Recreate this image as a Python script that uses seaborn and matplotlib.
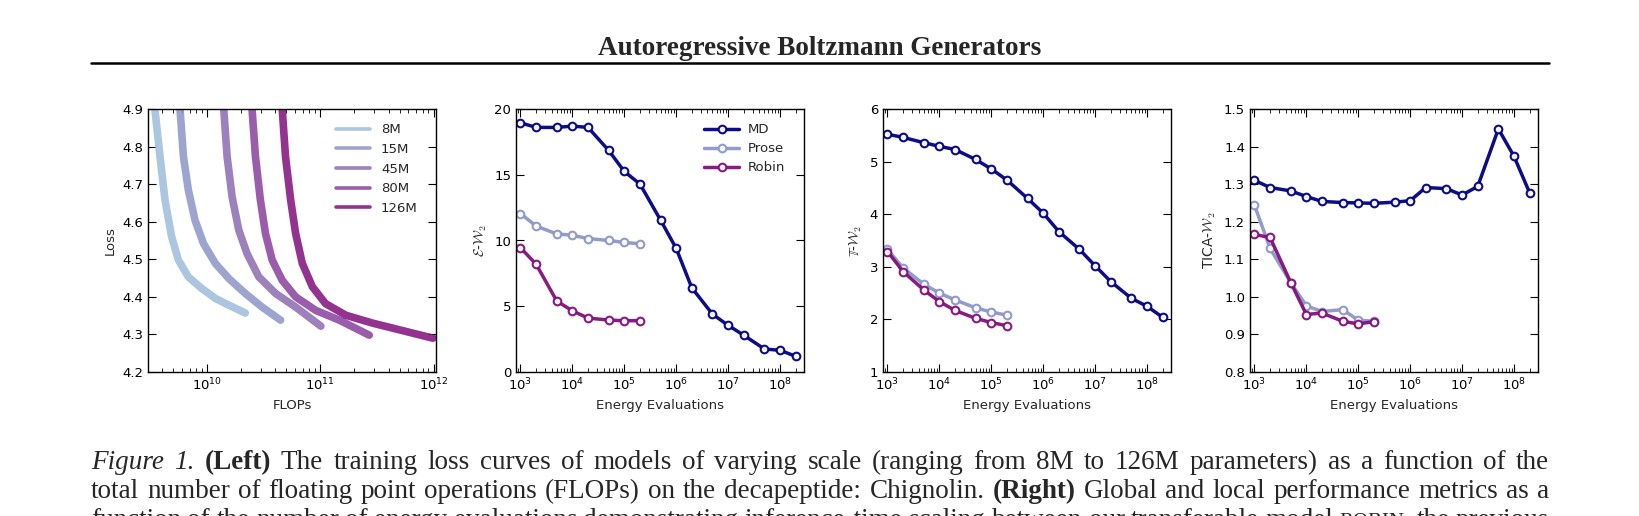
import matplotlib
matplotlib.use("Agg")
import matplotlib.pyplot as plt
import pandas as pd
import seaborn as sns

# ---- left panel: training loss vs FLOPs ----
models = ["8M", "15M", "45M", "80M", "126M"]
flops_8m = [3.45e9, 3.83e9, 4.24e9, 4.85e9, 5.57e9, 6.82e9, 8.98e9, 1.18e10, 1.55e10, 2.17e10]
loss_8m = [4.90, 4.773, 4.658, 4.56, 4.498, 4.453, 4.422, 4.396, 4.378, 4.357]
flops_15m = [5.75e9, 6.17e9, 6.82e9, 7.81e9, 9.27e9, 1.18e10, 1.55e10, 2.17e10, 3.05e10, 4.45e10]
loss_15m = [4.90, 4.773, 4.684, 4.604, 4.542, 4.489, 4.449, 4.409, 4.373, 4.338]
flops_45m = [1.40e10, 1.50e10, 1.66e10, 1.90e10, 2.25e10, 2.86e10, 4.02e10, 6.04e10, 1.01e11]
loss_45m = [4.90, 4.773, 4.666, 4.578, 4.515, 4.453, 4.409, 4.373, 4.322]
flops_80m = [2.49e10, 2.67e10, 2.95e10, 3.27e10, 3.75e10, 4.60e10, 6.04e10, 9.10e10, 1.47e11, 2.70e11]
loss_80m = [4.90, 4.773, 4.658, 4.569, 4.498, 4.444, 4.40, 4.364, 4.338, 4.298]
flops_126m = [4.60e10, 4.92e10, 5.46e10, 6.04e10, 6.92e10, 8.49e10, 1.11e11, 1.68e11, 2.90e11, 5.35e11, 9.86e11]
loss_126m = [4.90, 4.773, 4.658, 4.569, 4.489, 4.427, 4.382, 4.351, 4.33, 4.31, 4.29]
loss_colors = ["#9ebcda", "#8c96c6", "#8c6bb1", "#88419d", "#810f7c"]

# ---- right panels: metrics vs energy evaluations ----
methods = ["MD", "Prose", "Robin"]
method_colors = ["navy", "#8c96c6", "#810f7c"]
evals_md = [1e3, 2e3, 5e3, 1e4, 2e4, 5e4, 1e5, 2e5, 5e5, 1e6, 2e6, 5e6, 1e7, 2e7, 5e7, 1e8, 2e8]
evals_gen = [1e3, 2e3, 5e3, 1e4, 2e4, 5e4, 1e5, 2e5]

md_e = [18.95, 18.6, 18.6, 18.7, 18.6, 16.85, 15.25, 14.3, 11.55, 9.4, 6.4, 4.4, 3.55, 2.8, 1.75, 1.65, 1.2]
prose_e = [12.05, 11.1, 10.5, 10.4, 10.15, 10.0, 9.85, 9.75]
robin_e = [9.45, 8.2, 5.4, 4.65, 4.1, 3.95, 3.9, 3.9]

md_t = [5.52, 5.46, 5.36, 5.29, 5.23, 5.04, 4.86, 4.65, 4.30, 4.02, 3.67, 3.33, 3.02, 2.72, 2.40, 2.25, 2.04]
prose_t = [3.33, 2.98, 2.67, 2.50, 2.37, 2.22, 2.14, 2.08]
robin_t = [3.29, 2.91, 2.56, 2.34, 2.17, 2.02, 1.94, 1.88]

md_tica = [1.31, 1.291, 1.282, 1.267, 1.254, 1.251, 1.250, 1.249, 1.252, 1.256, 1.291, 1.288, 1.271, 1.294, 1.447, 1.374, 1.277]
prose_tica = [1.244, 1.129, 1.038, 0.976, 0.961, 0.966, 0.938, 0.935]
robin_tica = [1.166, 1.158, 1.038, 0.953, 0.957, 0.935, 0.928, 0.934]

sns.set_theme(style="ticks", rc={
    "xtick.direction": "in", "ytick.direction": "in",
    "xtick.top": True, "ytick.right": True,
    "xtick.major.size": 6, "ytick.major.size": 6,
    "xtick.minor.size": 3, "ytick.minor.size": 3,
    "xtick.major.width": 0.8, "ytick.major.width": 0.8,
    "xtick.minor.width": 0.6,
    "axes.linewidth": 1.0, "axes.edgecolor": "black",
    "xtick.color": "black", "ytick.color": "black",
    "xtick.labelsize": 9.5, "ytick.labelsize": 9.5,
    "axes.labelsize": 9.5, "legend.fontsize": 9.5,
})
plt.rcParams["font.family"] = ["DejaVu Sans"]

W, H = 1639, 516
fig = plt.figure(figsize=(W / 100, H / 100), dpi=100)

def add_axes(left_px):
    return fig.add_axes([left_px / W, (H - 372) / H, 288 / W, 263 / H])

# left panel
ax1 = add_axes(148)
loss_df = pd.concat([
    pd.DataFrame({"flops": f, "loss": l, "model": m})
    for f, l, m in zip([flops_8m, flops_15m, flops_45m, flops_80m, flops_126m],
                       [loss_8m, loss_15m, loss_45m, loss_80m, loss_126m], models)
])
sns.lineplot(data=loss_df, x="flops", y="loss", hue="model", hue_order=models,
             palette=loss_colors, lw=5.5, alpha=0.85, estimator=None, sort=False,
             legend=False, ax=ax1)
ax1.set_xscale("log")
ax1.set_xlim(3e9, 1.05e12)
ax1.set_ylim(4.2, 4.9)
ax1.set_yticks([4.2, 4.3, 4.4, 4.5, 4.6, 4.7, 4.8, 4.9])
ax1.set_xlabel("FLOPs")
ax1.set_ylabel("Loss")
leg = ax1.legend(ax1.lines, models, loc="upper left", bbox_to_anchor=(0.653, 0.945),
                 frameon=False, borderpad=0, borderaxespad=0, handlelength=2.6,
                 handletextpad=0.8, labelspacing=0.5)
for h in leg.get_lines():
    h.set_linewidth(2.6)

# right panels
panels = [
    (516, [md_e, prose_e, robin_e], (0, 20), [0, 5, 10, 15, 20], r"$\mathcal{E}$-$\mathcal{W}_2$"),
    (883, [md_t, prose_t, robin_t], (1, 6), [1, 2, 3, 4, 5, 6], r"$\mathbb{T}$-$\mathcal{W}_2$"),
    (1250, [md_tica, prose_tica, robin_tica], (0.8, 1.5),
     [0.8, 0.9, 1.0, 1.1, 1.2, 1.3, 1.4, 1.5], r"TICA-$\mathcal{W}_2$"),
]
for i, (left, series, ylim, yticks, ylabel) in enumerate(panels):
    ax = add_axes(left)
    for name, vals, col in zip(methods, series, method_colors):
        xs = evals_md if name == "MD" else evals_gen
        sns.lineplot(x=xs, y=vals, color=col, lw=2.5, alpha=0.95, marker="o",
                     markersize=5.5, mfc="white", mec=col, mew=1.5, label=name,
                     ax=ax, legend=False)
    ax.set_xscale("log")
    ax.set_xlim(820, 2.9e8)
    ax.set_ylim(*ylim)
    ax.set_yticks(yticks)
    ax.set_xlabel("Energy Evaluations")
    ax.set_ylabel(ylabel, math_fontfamily="cm", fontsize=10)
    if i == 0:
        ax.legend(loc="upper left", bbox_to_anchor=(0.654, 0.945), frameon=False,
                  borderpad=0, borderaxespad=0, handlelength=2.6,
                  handletextpad=0.7, labelspacing=0.45)

for ax in fig.axes:
    ax.tick_params(which="both", top=True, right=True, direction="in")

# page header
fig.text(819.5 / W, 1 - 55 / H, "Autoregressive Boltzmann Generators", ha="center",
         va="baseline", fontsize=19.5, fontweight="bold", family="Liberation Serif")
fig.add_artist(plt.Line2D([91 / W, 1549 / W], [1 - 63 / H, 1 - 63 / H],
                          color="black", lw=1.8))

def caption_line(y_px, parts, x0=91, x1=1549, size=19.5):
    r = fig.canvas.get_renderer()
    arts = []
    for text, kw in parts:
        for word in text.split():
            props = dict(fontsize=size, family="Liberation Serif", va="baseline")
            props.update(kw)
            arts.append(fig.text(0, 1 - y_px / H, word, **props))
    widths = [a.get_window_extent(r).width for a in arts]
    gap = (x1 - x0 - sum(widths)) / (len(arts) - 1)
    x = x0
    for a, w in zip(arts, widths):
        a.set_x(x / W)
        x += w + gap

caption_line(469, [("Figure 1.", {"style": "italic"}), ("(Left)", {"weight": "bold"}),
                   ("The training loss curves of models of varying scale (ranging from 8M to "
                    "126M parameters) as a function of the", {})])
caption_line(498, [("total number of floating point operations (FLOPs) on the decapeptide: "
                    "Chignolin.", {}), ("(Right)", {"weight": "bold"}),
                   ("Global and local performance metrics as a", {})])
caption_line(527, [("function of the number of energy evaluations demonstrating inference-time "
                    "scaling between our transferable model", {}), ("ROBIN,", {"fontsize": 15}),
                   ("the previous", {})])

fig.savefig("out.png", dpi=100)
